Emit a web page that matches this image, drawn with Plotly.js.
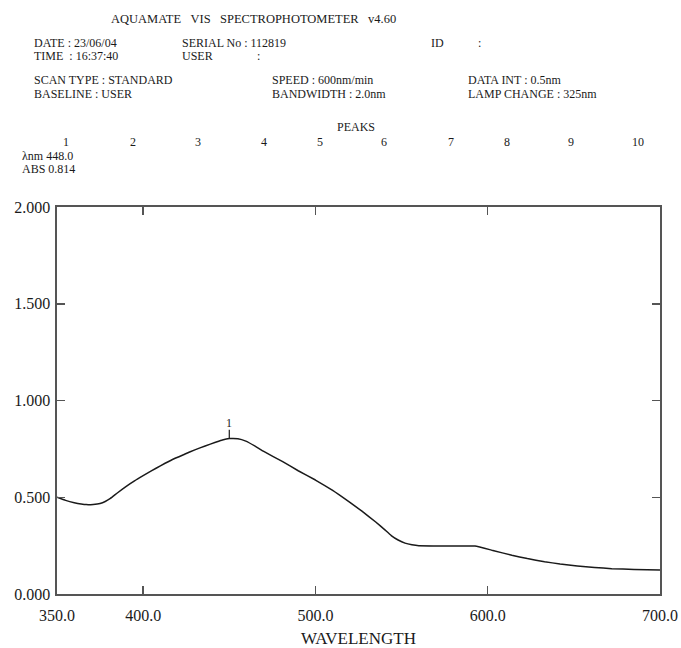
<!DOCTYPE html>
<html>
<head>
<meta charset="utf-8">
<script src="https://cdn.plot.ly/plotly-3.0.1.min.js"></script>
<style>
html,body{margin:0;padding:0;background:#fff;}
#chart{width:681px;height:648px;}
</style>
</head>
<body>
<div id="chart"></div>
<script>
// ---- data ----
const wavelength = [350, 355, 360, 364, 367, 371, 375, 378, 381, 385, 390, 395, 400, 405, 410, 417, 424, 430, 436, 442, 446, 450, 455, 459.6, 465, 470, 481, 490, 500, 510, 519.4, 527, 535, 540, 544, 548, 552, 556, 560, 575, 592.6, 603, 614, 623, 633, 642, 652, 662, 672, 685, 700];
const absorbance = [0.500, 0.484, 0.472, 0.465, 0.462, 0.463, 0.468, 0.478, 0.494, 0.522, 0.555, 0.585, 0.612, 0.638, 0.662, 0.695, 0.722, 0.745, 0.765, 0.784, 0.796, 0.803, 0.802, 0.790, 0.764, 0.737, 0.684, 0.637, 0.589, 0.535, 0.477, 0.428, 0.372, 0.334, 0.302, 0.279, 0.263, 0.254, 0.249, 0.248, 0.248, 0.225, 0.200, 0.183, 0.167, 0.155, 0.145, 0.137, 0.131, 0.127, 0.124];

const xTickVals = [350, 400, 500, 600, 700];
const xTickText = ["350.0", "400.0", "500.0", "600.0", "700.0"];
const yTickVals = [0, 0.5, 1.0, 1.5, 2.0];
const yTickText = ["0.000", "0.500", "1.000", "1.500", "2.000"];

const peakNumbers = ["1","2","3","4","5","6","7","8","9","10"];
const peakWl = 448.0;
const peakAbs = 0.814;

const headerTitle = "AQUAMATE   VIS   SPECTROPHOTOMETER   v4.60";
const headerRows = [
  ["DATE : 23/06/04", "SERIAL No : 112819", "ID", ":"],
  ["TIME  : 16:37:40", "USER", ":"],
  ["SCAN TYPE : STANDARD", "SPEED : 600nm/min", "DATA INT : 0.5nm"],
  ["BASELINE : USER", "BANDWIDTH : 2.0nm", "LAMP CHANGE : 325nm"]
];

// ---- layout helpers ----
const W = 681, H = 648;
const M = {l: 57, r: 21, t: 207, b: 54};
const PW = W - M.l - M.r, PH = H - M.t - M.b;
const px = x => (x - M.l) / PW;
const py = y => (H - M.b - y) / PH;
const FONT = "Liberation Serif";
const INK = "#1a1a1a";

const annotations = [];
function txt(text, x, y, size, anchor) {
  annotations.push({
    text: text, xref: "paper", yref: "paper", x: px(x), y: py(y),
    xanchor: anchor || "left", yanchor: "middle", showarrow: false,
    font: {family: FONT, size: size || 12, color: INK}
  });
}
txt(headerTitle.replace(/ /g, "&nbsp;"), 109, 19, 12.5);
txt(headerRows[0][0], 32, 43, 12); txt(headerRows[0][1], 180, 43, 12);
txt(headerRows[0][2], 429, 43, 12); txt(headerRows[0][3], 476, 43, 12);
txt(headerRows[1][0].replace(/ /g, "&nbsp;"), 32, 56, 12); txt(headerRows[1][1], 180, 56, 12); txt(headerRows[1][2], 255, 56, 12);
txt(headerRows[2][0], 32, 80, 12); txt(headerRows[2][1], 270, 80, 12); txt(headerRows[2][2], 466, 80, 12);
txt(headerRows[3][0], 32, 94, 12); txt(headerRows[3][1], 270, 94, 12); txt(headerRows[3][2], 466, 94, 12);
txt("PEAKS", 356, 127, 12, "center");
const peakNumX = [66, 133, 198, 264, 320, 384, 451, 507, 571, 638];
peakNumbers.forEach((n, i) => txt(n, peakNumX[i], 142, 12, "center"));
txt("λnm " + peakWl.toFixed(1), 20, 156, 12);
txt("ABS " + peakAbs.toFixed(3), 20, 169, 12);

// peak marker label
annotations.push({
  text: "1", xref: "x", yref: "y", x: peakWl + 2, y: peakAbs + 0.07,
  xanchor: "center", yanchor: "middle", showarrow: false,
  font: {family: FONT, size: 12, color: INK}
});

const shapes = [{
  type: "line", xref: "x", yref: "y",
  x0: peakWl + 2, x1: peakWl + 2, y0: peakAbs - 0.01, y1: peakAbs + 0.035,
  line: {color: INK, width: 1.2}
}];

const trace = {
  x: wavelength, y: absorbance, type: "scatter", mode: "lines",
  line: {color: INK, width: 1.5, shape: "spline", smoothing: 0.3},
  hoverinfo: "skip"
};

function axisCommon() {
  return {
    showgrid: false, zeroline: false, showline: true, linecolor: "#555", linewidth: 1.6,
    mirror: "ticks", ticks: "inside", ticklen: 8, tickwidth: 1.5, tickcolor: "#555",
    tickfont: {family: FONT, size: 16, color: INK}, fixedrange: true
  };
}

const layout = {
  width: W, height: H,
  margin: M,
  font: {family: FONT, color: INK},
  paper_bgcolor: "#fff", plot_bgcolor: "#fff",
  showlegend: false,
  xaxis: Object.assign(axisCommon(), {
    range: [350, 700], tickmode: "array", tickvals: xTickVals, ticktext: xTickText,
    ticklabelstandoff: 6,
    title: {text: "WAVELENGTH", font: {family: FONT, size: 17, color: INK}, standoff: 10}
  }),
  yaxis: Object.assign(axisCommon(), {
    range: [0, 2], tickmode: "array", tickvals: yTickVals, ticktext: yTickText,
    ticklabelstandoff: 2
  }),
  annotations: annotations,
  shapes: shapes
};

Plotly.newPlot("chart", [trace], layout, {displayModeBar: false, staticPlot: true});
</script>
</body>
</html>
